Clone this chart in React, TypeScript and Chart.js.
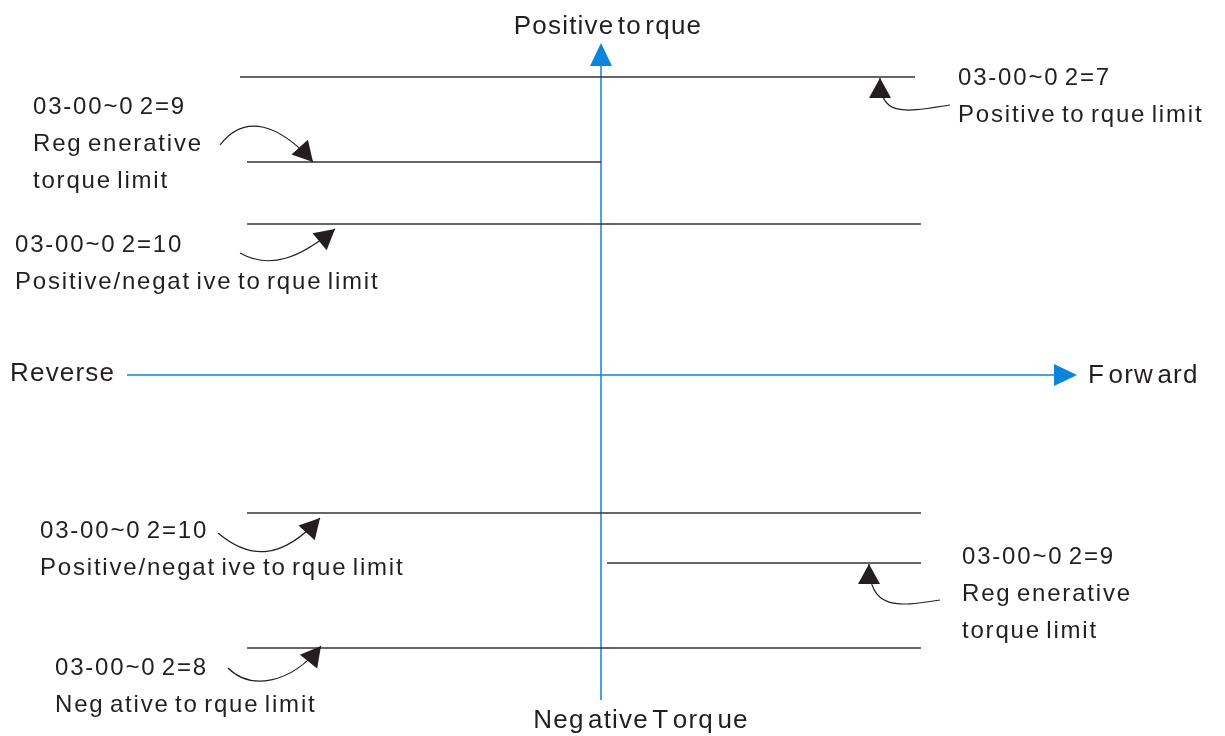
import React, { useEffect, useRef } from 'react';
import { Chart, registerables } from 'chart.js';

Chart.register(...registerables);

// Horizontal torque-limit levels (y) and their x extents
const limitLevels = [298, 213, 151, -138, -188, -273];
const limitStarts = [-361, -354, -354, -354, 6, -354];
const limitEnds = [314, 0, 320, 320, 320, 320];

// Speed axis (Reverse -> Forward) and torque axis (Negative -> Positive)
const speedAxis = [-474, 476];
const torqueAxis = [-325, 332];

// Axis labels
const axisLabels = ['Positive to rque', 'Reverse', 'F orw ard', 'Neg ative T orq ue'];
const axisLabelX = [7, -591, 487, 40];
const axisLabelY = [348, 1, -1, -346];
const axisLabelAlign = ['center', 'left', 'left', 'center'];

// Callouts
const calloutCodes = ['03-00~0 2=7', '03-00~0 2=9', '03-00~0 2=10', '03-00~0 2=10', '03-00~0 2=9', '03-00~0 2=8'];
const calloutDescs = [
  ['Positive to rque limit'],
  ['Reg enerative', 'torque limit'],
  ['Positive/negat ive to rque limit'],
  ['Positive/negat ive to rque limit'],
  ['Reg enerative', 'torque limit'],
  ['Neg ative to rque limit'],
];
const calloutTextX = [357, -568, -586, -561, 361, -546];
const calloutTextY = [298, 269, 131, -155, -181, -292];
const calloutStart = [[349, 270], [-381, 230], [-361, 122], [-383, -158], [339, -225], [-373, -293]];
const calloutCtrl1 = [[304, 263], [-356, 263], [-331, 105], [-351, -185], [299, -231], [-351, -315]];
const calloutCtrl2 = [[279, 257], [-321, 250], [-301, 117], [-319, -185], [268, -237], [-311, -310]];
const calloutTip = [[279, 297], [-288, 213], [-266, 146], [-281, -143], [268, -189], [-280, -271]];

const BLUE = '#0a84dc';
const DARK = '#231f20';
const CALLOUT_FONT = '24px "Liberation Sans", Arial, sans-serif';
const AXIS_FONT = '26px "Liberation Sans", Arial, sans-serif';
const LINE_GAP = 37;

function arrowHead(ctx: CanvasRenderingContext2D, fx: number, fy: number, tx: number, ty: number, len: number, half: number, color: string) {
  const dx = tx - fx;
  const dy = ty - fy;
  const d = Math.hypot(dx, dy) || 1;
  const ux = dx / d;
  const uy = dy / d;
  const bx = tx - ux * len;
  const by = ty - uy * len;
  ctx.beginPath();
  ctx.moveTo(tx, ty);
  ctx.lineTo(bx - uy * half, by + ux * half);
  ctx.lineTo(bx + uy * half, by - ux * half);
  ctx.closePath();
  ctx.fillStyle = color;
  ctx.fill();
}

function setSpacing(ctx: CanvasRenderingContext2D, letter: string, word: string) {
  try {
    (ctx as any).letterSpacing = letter;
    (ctx as any).wordSpacing = word;
  } catch (e) {}
}

const diagramPlugin = {
  id: 'diagram',
  afterDatasetsDraw(chart: any) {
    const ctx: CanvasRenderingContext2D = chart.ctx;
    const xs = chart.scales.x;
    const ys = chart.scales.y;
    const X = (v: number) => xs.getPixelForValue(v);
    const Y = (v: number) => ys.getPixelForValue(v);
    ctx.save();

    // axis arrowheads
    arrowHead(ctx, X(0), Y(torqueAxis[0]), X(0), Y(torqueAxis[1]), 23, 11, BLUE);
    arrowHead(ctx, X(speedAxis[0]), Y(0), X(speedAxis[1]), Y(0), 23, 11, BLUE);

    // callout curves + arrowheads
    for (let i = 0; i < calloutTip.length; i++) {
      const s = calloutStart[i];
      const c1 = calloutCtrl1[i];
      const c2 = calloutCtrl2[i];
      const t = calloutTip[i];
      ctx.beginPath();
      ctx.moveTo(X(s[0]), Y(s[1]));
      ctx.bezierCurveTo(X(c1[0]), Y(c1[1]), X(c2[0]), Y(c2[1]), X(t[0]), Y(t[1]));
      ctx.strokeStyle = DARK;
      ctx.lineWidth = 1.2;
      ctx.stroke();
      arrowHead(ctx, X(c2[0]), Y(c2[1]), X(t[0]), Y(t[1]), 20, 11, DARK);
    }

    // text
    ctx.fillStyle = DARK;
    ctx.textBaseline = 'middle';
    ctx.font = AXIS_FONT;
    setSpacing(ctx, '1.2px', '-5px');
    for (let i = 0; i < axisLabels.length; i++) {
      ctx.textAlign = axisLabelAlign[i] as CanvasTextAlign;
      ctx.fillText(axisLabels[i], X(axisLabelX[i]), Y(axisLabelY[i]));
    }
    ctx.font = CALLOUT_FONT;
    setSpacing(ctx, '1.8px', '-3px');
    ctx.textAlign = 'left';
    for (let i = 0; i < calloutCodes.length; i++) {
      const lines = [calloutCodes[i], ...calloutDescs[i]];
      lines.forEach((ln, k) => {
        ctx.fillText(ln, X(calloutTextX[i]), Y(calloutTextY[i]) + 1 + k * LINE_GAP);
      });
    }
    ctx.restore();
  },
};

export default function App() {
  const ref = useRef<HTMLCanvasElement | null>(null);
  useEffect(() => {
    document.body.style.margin = '0';
    const canvas = ref.current;
    if (!canvas) return;
    const datasets: any[] = [];
    limitLevels.forEach((lv, i) => {
      datasets.push({
        label: 'limit' + i,
        data: [{ x: limitStarts[i], y: lv }, { x: limitEnds[i], y: lv }],
        showLine: true,
        borderColor: '#333333',
        borderWidth: 1.4,
        pointRadius: 0,
      });
    });
    datasets.push({
      label: 'speed',
      data: [{ x: speedAxis[0], y: 0 }, { x: speedAxis[1] - 20, y: 0 }],
      showLine: true,
      borderColor: BLUE,
      borderWidth: 1.5,
      pointRadius: 0,
    });
    datasets.push({
      label: 'torque',
      data: [{ x: 0, y: torqueAxis[0] }, { x: 0, y: torqueAxis[1] - 20 }],
      showLine: true,
      borderColor: BLUE,
      borderWidth: 1.5,
      pointRadius: 0,
    });
    const chart = new Chart(canvas, {
      type: 'scatter',
      data: { datasets },
      options: {
        animation: false,
        responsive: false,
        maintainAspectRatio: false,
        layout: { padding: 0 },
        plugins: { legend: { display: false }, tooltip: { enabled: false } },
        scales: {
          x: { type: 'linear', min: -601, max: 624, display: false },
          y: { type: 'linear', min: -361, max: 375, display: false },
        },
      },
      plugins: [diagramPlugin],
    });
    return () => chart.destroy();
  }, []);
  return (
    <div style={{ width: 1225, height: 736, background: '#fff' }}>
      <canvas ref={ref} width={1225} height={736} />
    </div>
  );
}
